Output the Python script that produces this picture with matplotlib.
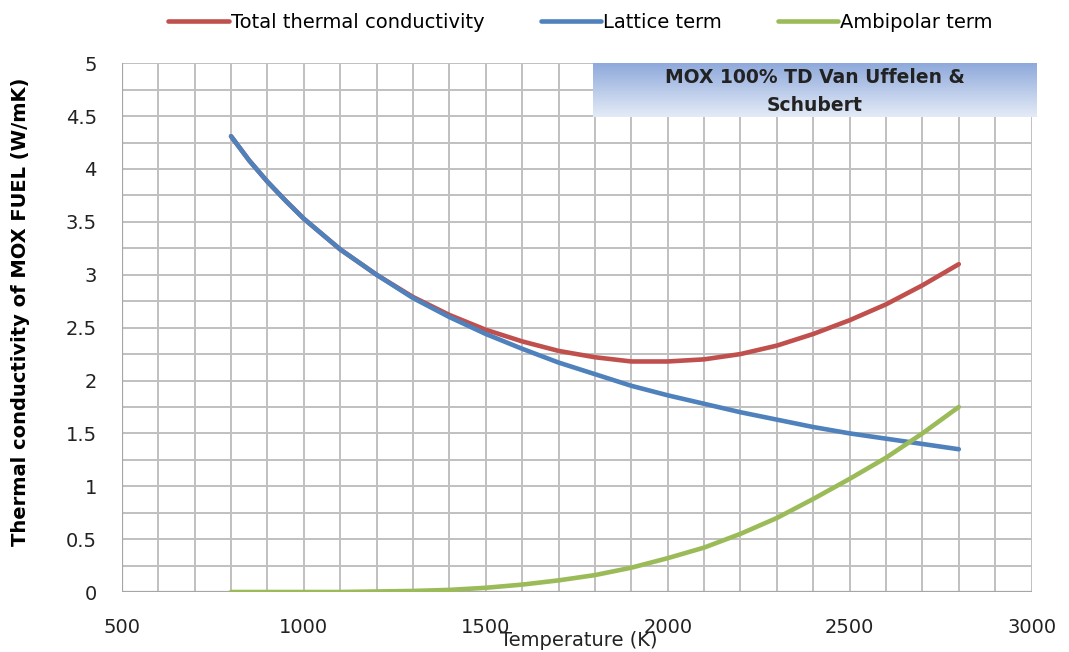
import numpy as np
import matplotlib
matplotlib.use("Agg")
import matplotlib.pyplot as plt
from matplotlib.ticker import MultipleLocator, FuncFormatter

plt.rcParams["font.family"] = ["DejaVu Sans"]

# values
temperature = [800, 850, 900, 950, 1000, 1100, 1200, 1300, 1400, 1500, 1600, 1700, 1800,
               1900, 2000, 2100, 2200, 2300, 2400, 2500, 2600, 2700, 2800]
lattice = [4.31, 4.08, 3.88, 3.70, 3.53, 3.24, 3.00, 2.78, 2.60, 2.44, 2.30, 2.17, 2.06,
           1.95, 1.86, 1.78, 1.70, 1.63, 1.56, 1.50, 1.45, 1.40, 1.35]
ambipolar = [0.0, 0.0, 0.0, 0.0, 0.0, 0.0, 0.005, 0.01, 0.02, 0.04, 0.07, 0.11, 0.16,
             0.23, 0.32, 0.42, 0.55, 0.70, 0.88, 1.07, 1.27, 1.50, 1.75]
total = [4.31, 4.08, 3.88, 3.70, 3.53, 3.24, 3.00, 2.79, 2.62, 2.48, 2.37, 2.28, 2.22,
         2.18, 2.18, 2.20, 2.25, 2.33, 2.44, 2.57, 2.72, 2.90, 3.10]

labels = ["Total thermal conductivity", "Lattice term", "Ambipolar term"]
colors = ["#C0504D", "#4F81BD", "#9BBB59"]

fig = plt.figure(figsize=(10.69, 6.52), dpi=100)
ax = fig.add_axes([0.114, 0.092, 0.851, 0.811])

for y, lab, c in zip([total, lattice, ambipolar], labels, colors):
    ax.plot(temperature, y, color=c, lw=3.3, label=lab, solid_capstyle="round",
            solid_joinstyle="round", zorder=3)

ax.set_xlim(500, 3000)
ax.set_ylim(0, 5)
ax.xaxis.set_major_locator(MultipleLocator(500))
ax.xaxis.set_minor_locator(MultipleLocator(100))
ax.yaxis.set_major_locator(MultipleLocator(0.5))
ax.yaxis.set_minor_locator(MultipleLocator(0.25))
ax.yaxis.set_major_formatter(FuncFormatter(lambda v, p: f"{v:g}"))
ax.grid(which="both", color="#C0C0C0", lw=1.4)
ax.set_axisbelow(True)
ax.tick_params(which="both", length=0, labelsize=14, colors="#222222")
ax.tick_params(axis="x", pad=19)
ax.tick_params(axis="y", pad=18)
for s in ax.spines.values():
    s.set_visible(False)
ax.axhline(0, color="#A6A6A6", lw=1.6, zorder=2)
ax.axvline(500, color="#A6A6A6", lw=1.6, zorder=2)

ax.set_ylabel("Thermal conductivity of MOX FUEL (W/mK)", fontsize=14,
              fontweight="bold")
ax.yaxis.set_label_coords(-0.101, 0.53)
fig.text(0.541, 0.018, "Temperature (K)", ha="center", va="center", fontsize=14,
         color="#222222")

fig.legend(loc="center", bbox_to_anchor=(0.543, 0.966), ncol=3, frameon=False,
           fontsize=14, handlelength=3.1, handletextpad=0.1, columnspacing=2.9)

# gradient title box
bx = fig.add_axes([593 / 1069, 1 - 117 / 652, (1037 - 593) / 1069, 54 / 652])
grad = np.linspace(0, 1, 100).reshape(-1, 1)
top = np.array([0x8E, 0xA9, 0xDB]) / 255
bot = np.array([0xE4, 0xEB, 0xF7]) / 255
img = top + (bot - top) * grad[:, :, None]
bx.imshow(img, aspect="auto", extent=[0, 1, 0, 1])
bx.set_xlim(0, 1)
bx.set_ylim(0, 1)
bx.axis("off")
bx.text(0.5, 0.47, "MOX 100% TD Van Uffelen &\nSchubert", ha="center", va="center",
        fontsize=13.5, fontweight="bold", color="#222222", linespacing=1.6)

fig.savefig("out.png", dpi=100)
